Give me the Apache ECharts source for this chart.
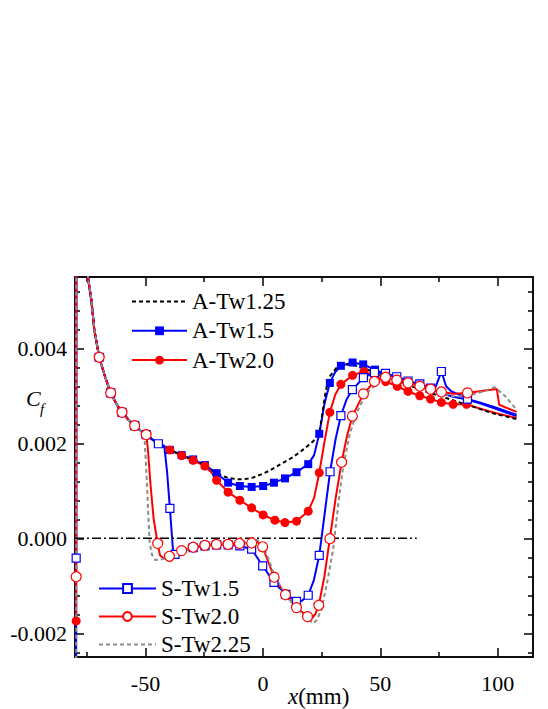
<!DOCTYPE html>
<html>
<head>
<meta charset="utf-8">
<script src="https://cdn.jsdelivr.net/npm/echarts@6/dist/echarts.min.js"></script>
<style>
html,body{margin:0;padding:0;background:#fff;}
#main{width:548px;height:709px;}
</style>
</head>
<body>
<div id="main"></div>
<script>
// x in mm, Cf values
var inlet = [[-75.6,0.0063],[-74.5,0.0055],[-73.0,0.0050],[-71.8,0.0044],[-69.7,0.00381],[-67.2,0.0034],
  [-64.8,0.00306],[-62.4,0.00283],[-60.0,0.00265],[-57.3,0.0025],[-54.6,0.00237],[-52.1,0.00227]];
var inletMarks = [-69.7,-64.8,-60.0,-54.6,-49.7];

var aTw125 = [[-49.7,0.00218],[-44.5,0.00198],[-39.6,0.00186],[-34.6,0.00175],[-29.7,0.00166],[-24.7,0.00154],
  [-22.0,0.00144],[-19.0,0.00135],[-15.4,0.00128],[-12.0,0.00125],[-9.8,0.00124],[-7.0,0.00125],[-4.1,0.00128],
  [-1.0,0.00134],[2.3,0.00141],[7.2,0.00155],[12.9,0.00171],[17.0,0.00186],[21.4,0.00204],[23.0,0.00216],
  [24.3,0.00229],[25.3,0.00262],[26.4,0.00299],[27.4,0.00325],[28.5,0.00341],[31.4,0.00359],[35.6,0.00366],
  [39.9,0.00363],[44.1,0.00356],[50,0.00343],[55,0.00335],[60,0.00326],[65,0.00317],[70,0.00308],[75,0.00300],
  [80,0.00292],[85,0.00284],[90,0.00276],[97.3,0.00264],[103,0.00257],[108,0.00251]];

var aTw15 = [[-79.5,-0.003],[-79.4,0.02],[-49.7,0.00218],[-44.5,0.00198],[-39.6,0.00186],[-34.6,0.00175],[-29.7,0.00166],
  [-24.7,0.00154],[-19.7,0.00137],[-14.8,0.00117],[-9.8,0.00110],[-4.8,0.00108],[0.1,0.00110],[4.7,0.00117],[9.4,0.00126],
  [14.3,0.00139],[19.3,0.00156],[21.8,0.00175],[24.0,0.00220],[26.3,0.00285],[28.5,0.00327],[30.8,0.00350],
  [33.2,0.00363],[38.2,0.00370],[42.7,0.00366],[47.7,0.00355],[52.6,0.00345],[57.6,0.00338],[61.8,0.00330],
  [66.8,0.00322],[71.4,0.00314],[76,0.00305],[81,0.00298],[87,0.00292],[93,0.00283],[99.4,0.00272],[108,0.00257]];
var aTw15Marks = [-39.6,-34.6,-29.7,-24.7,-19.7,-14.8,-9.8,-4.8,0.1,4.7,9.4,14.3,19.3,24.0,28.5,33.2,38.2,42.7,47.7];

var aTw20 = [[-79.5,-0.00174],[-79.4,0.02],[-49.7,0.00218],[-44.5,0.00198],[-39.6,0.00186],[-34.6,0.00174],[-29.7,0.00164],
  [-24.7,0.00152],[-22.0,0.00139],[-19.7,0.00122],[-14.8,0.00097],[-9.8,0.00080],[-4.8,0.00064],[0.1,0.00049],[5.1,0.00038],
  [9.4,0.00033],[14.3,0.00036],[19.3,0.00057],[21.8,0.00085],[24.0,0.00138],[26.3,0.00205],[28.5,0.00265],
  [30.8,0.00302],[33.2,0.00324],[38.2,0.00343],[43.0,0.00351],[47.7,0.00341],[52.3,0.00330],[57.2,0.00320],
  [61.8,0.00309],[66.8,0.00300],[71.4,0.00293],[76,0.00286],[81,0.00282],[86.7,0.00282],[93,0.00272],
  [99.4,0.00263],[108,0.00253]];
var aTw20Marks = [-79.5,-39.6,-34.6,-29.7,-24.7,-19.7,-14.8,-9.8,-4.8,0.1,5.1,9.4,14.3,19.3,24.0,28.5,33.2,38.2,43.0,
  47.7,52.3,57.2,61.8,66.8,71.4,76,81,86.7];

var sTw15 = [[-79.5,-0.00042],[-79.4,0.02],[-49.7,0.00218],[-44.5,0.00199],[-42.0,0.00195],[-40.8,0.0014],[-39.6,0.00063],
  [-38.2,-0.00030],[-37.4,-0.00034],[-34.6,-0.00028],[-29.7,-0.00020],[-24.7,-0.00016],[-19.7,-0.00014],
  [-14.8,-0.00014],[-9.8,-0.00016],[-4.8,-0.00023],[-0.1,-0.00058],[4.7,-0.00093],[9.8,-0.00118],[14.3,-0.00133],
  [16.5,-0.00132],[19.3,-0.00120],[21.7,-0.00088],[24.0,-0.00036],[26.3,0.00052],[28.6,0.00140],[31.0,0.00210],
  [33.2,0.00258],[35.6,0.00292],[38.1,0.00313],[42.8,0.00338],[47.5,0.00349],[52.2,0.00347],[57,0.00340],
  [61.8,0.00331],[66.8,0.00325],[71.4,0.00316],[73.5,0.00318],[76,0.00351],[78,0.00320],[80.3,0.00309],
  [85.2,0.00299],[87.1,0.00293],[93,0.00285],[99.4,0.00275],[108,0.00260]];
var sTw15Marks = [-79.5,-44.5,-39.6,-37.4,-29.7,-24.7,-19.7,-14.8,-9.8,-4.8,-0.1,4.7,9.8,14.3,19.3,24.0,28.6,33.2,
  38.1,42.8,47.5,52.2,57,61.8,66.8,71.4,76,87.1];

var sTw20 = [[-79.5,-0.00081],[-79.4,0.02],[-49.7,0.00218],[-49.0,0.0019],[-47.8,0.0011],[-46.5,0.0004],[-44.8,-0.00011],
  [-43.8,-0.00036],[-42.2,-0.00042],[-39.8,-0.00038],[-34.6,-0.00026],[-29.7,-0.00019],[-24.7,-0.00015],
  [-19.8,-0.00013],[-14.8,-0.00013],[-10.0,-0.00011],[-4.8,-0.00010],[-2.7,-0.00006],[-0.1,-0.00018],
  [2.3,-0.00050],[4.8,-0.00082],[9.6,-0.00119],[14.3,-0.00146],[19.0,-0.00165],[20.8,-0.00169],[22.3,-0.00160],
  [23.8,-0.00141],[26.2,-0.00080],[28.5,-0.00001],[31.0,0.00085],[33.5,0.00160],[35.8,0.00215],[38.1,0.00257],
  [42.8,0.00304],[47.5,0.00330],[52.2,0.00339],[57,0.00333],[61.8,0.00327],[66.8,0.00320],[71.4,0.00314],
  [76,0.00308],[81,0.00304],[87.1,0.00306],[93,0.00310],[99.6,0.00314],[100.6,0.00281],[108,0.00266]];
var sTw20Marks = [-79.5,-44.8,-39.8,-34.6,-29.7,-24.7,-19.8,-14.8,-10.0,-4.8,-0.1,4.8,9.6,14.3,19.0,23.8,28.5,33.5,
  38.1,42.8,47.5,52.2,57,61.8,66.8,71.4,76,87.1];

var sTw225 = [[-79.5,-0.003],[-79.4,0.02],[-50.4,0.00212],[-49.6,0.0014],[-48.9,0.0006],[-48.2,-0.0001],
  [-47.2,-0.00035],[-45.8,-0.00046],[-43.8,-0.00045],[-39.6,-0.00040],[-34.6,-0.00027],[-29.7,-0.00020],
  [-24.7,-0.00016],[-19.8,-0.00014],[-14.8,-0.00013],[-10,-0.00011],[-5,-0.00008],[-2.5,-0.00003],[0,-0.00015],
  [2.5,-0.00045],[5,-0.00080],[10,-0.00122],[15,-0.00150],[19,-0.00170],[21.4,-0.00179],[23,-0.00172],
  [25,-0.00149],[27.5,-0.00090],[29.9,-0.00023],[32,0.00068],[34.2,0.00152],[37,0.00220],[39.9,0.00264],
  [44.1,0.00306],[49.8,0.00330],[55.4,0.00334],[61,0.00326],[67,0.00318],[72,0.00310],[76,0.00305],[81,0.00299],
  [86.7,0.00299],[93,0.00308],[98.7,0.00318],[103,0.00300],[108,0.00271]];

var zeroLine = [[-80,0],[65.5,0]];

var xMajor = [-50, 0, 50, 100];
var xMinor = [-75, -25, 25, 75];
var yMajor = [-0.002, 0, 0.002, 0.004];
var yMinor = [-0.0024,-0.0016,-0.0012,-0.0008,-0.0004,0.0004,0.0008,0.0012,0.0016,0.0024,0.0028,0.0032,0.0036,
  0.0044,0.0048,0.0052];

var FONT = 'Liberation Serif';
var BLUE = '#0000ff', RED = '#ff0000', GRAY = '#8c8c8c';

// put the shared inlet curve between the left-edge start and the downstream part
function withInlet(pts, cut) {
  var head = pts.filter(function (p) { return p[0] < -79; });
  var tail = pts.filter(function (p) { return p[0] >= -79; });
  var mid = inlet.filter(function (p) { return p[0] < cut; });
  return head.concat(mid, tail);
}
function build(pts, marks) {
  return pts.map(function (p) {
    return marks.indexOf(p[0]) >= 0 ? p : { value: p, symbol: 'none' };
  });
}

function xAx(pos, ticks, len, labels) {
  return {
    type: 'value', min: -80, max: 115, position: pos,
    axisLine: { show: true, onZero: false, lineStyle: { color: '#000', width: 1.5 } },
    axisTick: { show: true, inside: true, length: len, customValues: ticks, lineStyle: { color: '#000', width: 1.5 } },
    axisLabel: { show: labels, customValues: ticks, margin: 15, color: '#000', fontFamily: FONT, fontSize: 22 },
    splitLine: { show: false }
  };
}
function yAx(pos, ticks, len, labels) {
  return {
    type: 'value', min: -0.0025, max: 0.0055, position: pos,
    axisLine: { show: true, onZero: false, lineStyle: { color: '#000', width: 1.5 } },
    axisTick: { show: true, inside: true, length: len, customValues: ticks, lineStyle: { color: '#000', width: 1.5 } },
    axisLabel: { show: labels, customValues: ticks, margin: 8, color: '#000', fontFamily: FONT, fontSize: 22,
      formatter: function (v) { return v.toFixed(3); } },
    splitLine: { show: false }
  };
}

var legendText = { fontFamily: FONT, fontSize: 23, lineHeight: 22, color: '#000' };

var chart = echarts.init(document.getElementById('main'), null, { renderer: 'svg' });
chart.setOption({
  animation: false,
  backgroundColor: '#fff',
  grid: { left: 75, right: 15, top: 277, bottom: 52, outerBoundsMode: 'none' },
  xAxis: [xAx('bottom', xMajor, 9, true), xAx('bottom', xMinor, 5, false), xAx('top', xMajor, 9, false), xAx('top', xMinor, 5, false)],
  yAxis: [yAx('left', yMajor, 9, true), yAx('left', yMinor, 5, false), yAx('right', yMajor, 9, false), yAx('right', yMinor, 5, false)],
  legend: [{
    orient: 'vertical', left: 126, top: 285, itemWidth: 55, itemHeight: 11, itemGap: 6.3,
    textStyle: legendText,
    data: [{ name: 'A-Tw1.25', itemStyle: { opacity: 0 } }, 'A-Tw1.5', 'A-Tw2.0']
  }, {
    orient: 'vertical', left: 93, top: 572, itemWidth: 57, itemHeight: 11, itemGap: 5,
    textStyle: legendText,
    data: ['S-Tw1.5', 'S-Tw2.0', { name: 'S-Tw2.25', itemStyle: { opacity: 0 } }]
  }],
  graphic: [
    { type: 'text', left: 26, top: 387, style: { text: 'C', fontFamily: FONT, fontSize: 22, fontStyle: 'italic', fill: '#000' } },
    { type: 'text', left: 40, top: 401, style: { text: 'f', fontFamily: FONT, fontSize: 15, fontStyle: 'italic', fill: '#000' } },
    { type: 'text', left: 288, top: 685, style: {
        text: '{i|x}{n|(mm)}', fill: '#000',
        rich: {
          i: { fontFamily: FONT, fontSize: 23, fontStyle: 'italic', fill: '#000' },
          n: { fontFamily: FONT, fontSize: 23, fill: '#000' }
        }
      } }
  ],
  series: [
    {
      name: 'A-Tw1.5', type: 'line', symbol: 'rect', symbolSize: 8, showAllSymbol: true,
      data: build(withInlet(aTw15, -50), aTw15Marks),
      lineStyle: { color: BLUE, width: 2 }, itemStyle: { color: BLUE }
    },
    {
      name: 'A-Tw2.0', type: 'line', symbol: 'circle', symbolSize: 9, showAllSymbol: true,
      data: build(withInlet(aTw20, -50), aTw20Marks),
      lineStyle: { color: RED, width: 2 }, itemStyle: { color: RED }
    },
    {
      name: 'A-Tw1.25', type: 'line', symbol: 'none',
      data: inlet.concat(aTw125),
      lineStyle: { color: '#000', width: 2, type: [4, 3] }, itemStyle: { color: '#000' }
    },
    {
      name: 'S-Tw1.5', type: 'line', symbol: 'rect', symbolSize: 8, showAllSymbol: true,
      data: build(withInlet(sTw15, -50), sTw15Marks.concat(inletMarks)),
      lineStyle: { color: BLUE, width: 2 }, itemStyle: { color: '#fff', borderColor: BLUE, borderWidth: 1.2 }
    },
    {
      name: 'S-Tw2.0', type: 'line', symbol: 'circle', symbolSize: 10, showAllSymbol: true,
      data: build(withInlet(sTw20, -50), sTw20Marks.concat(inletMarks)),
      lineStyle: { color: RED, width: 2 }, itemStyle: { color: '#fff', borderColor: RED, borderWidth: 1.2 }
    },
    {
      name: 'S-Tw2.25', type: 'line', symbol: 'none',
      data: withInlet(sTw225, -51),
      lineStyle: { color: GRAY, width: 2, type: [4, 3] }, itemStyle: { color: GRAY }
    },
    {
      type: 'line', symbol: 'none', data: zeroLine, silent: true,
      lineStyle: { color: '#000', width: 1.5, type: [9, 3, 2, 3] }
    }
  ]
});
</script>
</body>
</html>
